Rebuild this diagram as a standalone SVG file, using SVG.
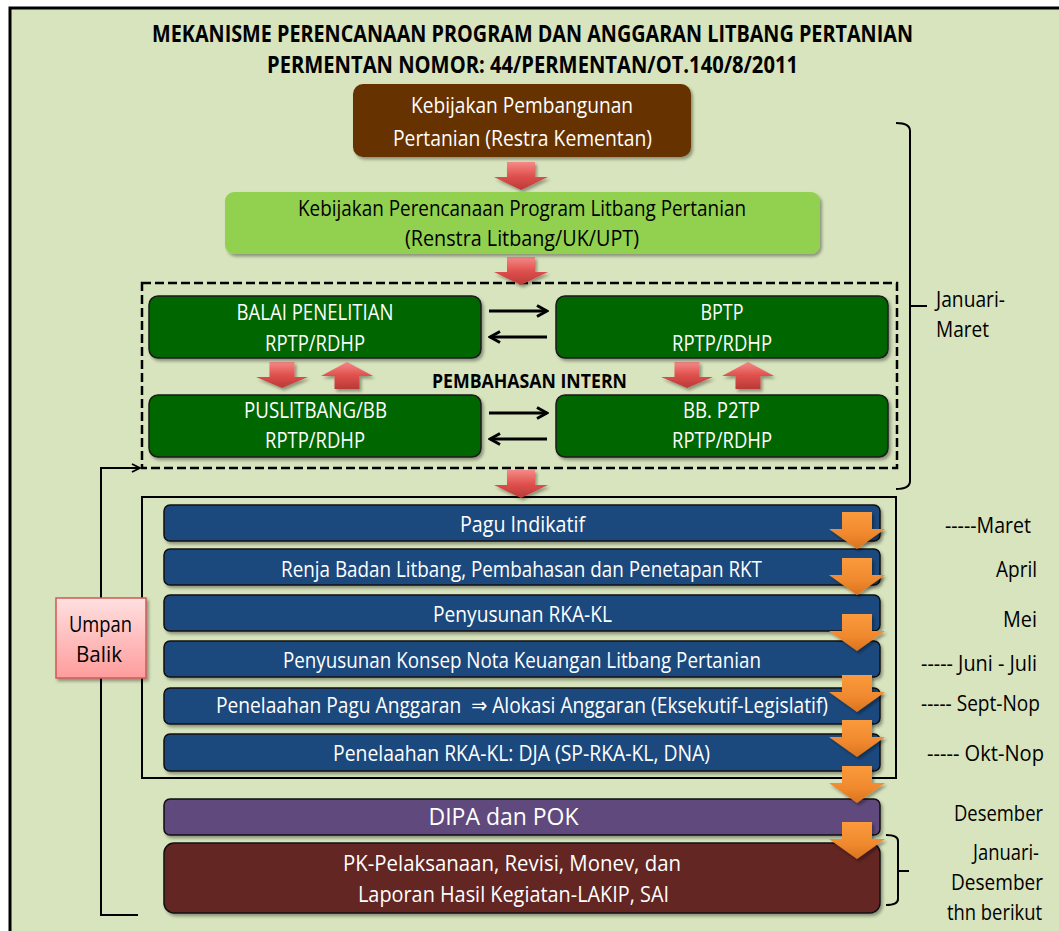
<svg xmlns="http://www.w3.org/2000/svg" width="1059" height="931" viewBox="0 0 1059 931">
<style>
.t{font-family:"Open Sans","Liberation Sans","DejaVu Sans",sans-serif;font-size:22px}
.c{text-anchor:middle}
.e{text-anchor:end}
.w{fill:#ffffff}
.k{fill:#000000}
.b{font-weight:bold}
.ttl{font-size:23px;font-weight:bold;fill:#000}
.grn{fill:#006600;stroke:#1a1a1a;stroke-width:1.5}
.blu{fill:#1F497D;stroke:#111;stroke-width:1.5}
.sh{filter:url(#shadow)}
.ln{fill:none;stroke:#000;stroke-width:2}
.ba{fill:none;stroke:#000;stroke-width:3}
</style>
<defs>
<filter id="shadow" x="-10%" y="-20%" width="130%" height="150%">
<feDropShadow dx="2" dy="2.5" stdDeviation="1.5" flood-color="#000" flood-opacity="0.35"/>
</filter>
<linearGradient id="red" x1="0" y1="0" x2="0" y2="1">
<stop offset="0" stop-color="#F58A87"/>
<stop offset="0.5" stop-color="#E0504D"/>
<stop offset="1" stop-color="#B83A37"/>
</linearGradient>
<linearGradient id="org" x1="0" y1="0" x2="0" y2="1">
<stop offset="0" stop-color="#FA9A3C"/>
<stop offset="0.6" stop-color="#F0892E"/>
<stop offset="1" stop-color="#D9731E"/>
</linearGradient>
<linearGradient id="pink" x1="0" y1="0" x2="0" y2="1">
<stop offset="0" stop-color="#FFE0E0"/>
<stop offset="1" stop-color="#FF9C9C"/>
</linearGradient>
<path id="bigred" d="M-14,0 H14 V15 H27 L0,28 L-27,15 H-14 Z" fill="url(#red)"/>
<path id="smdown" d="M-12.5,0 H12.5 V15 H26 L0,26 L-26,15 H-12.5 Z" fill="url(#red)"/>
<path id="smup" d="M0,0 L26,14 H12.5 V27 H-12.5 V14 H-26 Z" fill="url(#red)"/>
<path id="oarr" d="M-15,0 H15 V17 H28 L0,37 L-28,17 H-15 Z" fill="url(#org)"/>
<marker id="chev" viewBox="0 0 10 10" refX="9" refY="5" markerWidth="10" markerHeight="10" markerUnits="userSpaceOnUse" orient="auto">
<path d="M1,1 L9,5 L1,9" fill="none" stroke="#000" stroke-width="1.8"/>
</marker>
<marker id="chev2" viewBox="0 0 14 14" refX="12" refY="7" markerWidth="14" markerHeight="14" markerUnits="userSpaceOnUse" orient="auto">
<path d="M2,1.5 L12,7 L2,12.5" fill="none" stroke="#000" stroke-width="3"/>
</marker>
</defs>

<rect x="0" y="0" width="1059" height="931" fill="#ffffff"/>
<rect x="10" y="8" width="1049" height="923" fill="#D7E4BD"/>
<path d="M10,931 V8 H1059" fill="none" stroke="#000" stroke-width="3"/>

<g id="title">
<text class="t ttl c" x="532.5" y="42" textLength="761" lengthAdjust="spacingAndGlyphs">MEKANISME PERENCANAAN PROGRAM DAN ANGGARAN LITBANG PERTANIAN</text>
<text class="t ttl c" x="532.5" y="73" textLength="531" lengthAdjust="spacingAndGlyphs">PERMENTAN NOMOR: 44/PERMENTAN/OT.140/8/2011</text>
</g>

<g id="groups">
<rect x="142" y="283" width="755" height="185" fill="none" stroke="#000" stroke-width="2.5" stroke-dasharray="9 4"/>
<rect x="142" y="497" width="754" height="281" fill="none" stroke="#000" stroke-width="2"/>
<path class="ln" d="M896,123 Q910,123 910,131 V481 Q910,489 896,489 M910,306 H927"/>
<path class="ln" d="M886,835 Q898,835 898,841 V899 Q898,905 886,905 M898,871 H909"/>
</g>

<g id="connectors">
<use href="#bigred" x="521" y="162" class="sh"/>
<use href="#bigred" x="521" y="257" class="sh"/>
<use href="#bigred" x="521" y="470" class="sh"/>
<use href="#smdown" x="282" y="362" class="sh"/>
<use href="#smup" x="347" y="362" class="sh"/>
<use href="#smdown" x="687" y="362" class="sh"/>
<use href="#smup" x="748" y="362" class="sh"/>
<line class="ba" x1="489" y1="311" x2="547" y2="311" marker-end="url(#chev2)"/>
<line class="ba" x1="547" y1="337" x2="490" y2="337" marker-end="url(#chev2)"/>
<line class="ba" x1="489" y1="413" x2="547" y2="413" marker-end="url(#chev2)"/>
<line class="ba" x1="547" y1="439" x2="490" y2="439" marker-end="url(#chev2)"/>
<path class="ln" d="M138,915 H101 V468 H140" marker-end="url(#chev)"/>
</g>

<g id="n-kebijakan-pembangunan">
<rect x="353" y="84" width="338" height="73" rx="10" fill="#663300" class="sh"/>
<text class="t c w" x="522" y="113" textLength="222" lengthAdjust="spacingAndGlyphs">Kebijakan Pembangunan</text>
<text class="t c w" x="522.5" y="146" textLength="259" lengthAdjust="spacingAndGlyphs">Pertanian (Restra Kementan)</text>
</g>

<g id="n-kebijakan-perencanaan">
<rect x="225" y="192" width="595" height="62" rx="9" fill="#92D050" class="sh"/>
<text class="t c k" x="522" y="216" textLength="448" lengthAdjust="spacingAndGlyphs">Kebijakan Perencanaan Program Litbang Pertanian</text>
<text class="t c k" x="522" y="246" textLength="234" lengthAdjust="spacingAndGlyphs">(Renstra Litbang/UK/UPT)</text>
</g>

<g id="n-balai">
<rect x="149" y="296" width="332" height="62" rx="9" class="grn sh"/>
<text class="t c w" x="315" y="320" textLength="157" lengthAdjust="spacingAndGlyphs">BALAI PENELITIAN</text>
<text class="t c w" x="315" y="351" textLength="100" lengthAdjust="spacingAndGlyphs">RPTP/RDHP</text>
</g>
<g id="n-bptp">
<rect x="556" y="296" width="332" height="62" rx="9" class="grn sh"/>
<text class="t c w" x="722" y="320" textLength="43" lengthAdjust="spacingAndGlyphs">BPTP</text>
<text class="t c w" x="722" y="351" textLength="100" lengthAdjust="spacingAndGlyphs">RPTP/RDHP</text>
</g>
<g id="n-puslitbang">
<rect x="149" y="395" width="332" height="62" rx="9" class="grn sh"/>
<text class="t c w" x="315.5" y="418" textLength="143" lengthAdjust="spacingAndGlyphs">PUSLITBANG/BB</text>
<text class="t c w" x="315" y="448" textLength="100" lengthAdjust="spacingAndGlyphs">RPTP/RDHP</text>
</g>
<g id="n-bbp2tp">
<rect x="556" y="395" width="332" height="62" rx="9" class="grn sh"/>
<text class="t c w" x="721.5" y="418" textLength="77" lengthAdjust="spacingAndGlyphs">BB. P2TP</text>
<text class="t c w" x="722" y="448" textLength="100" lengthAdjust="spacingAndGlyphs">RPTP/RDHP</text>
</g>
<g id="lbl-pembahasan">
<text class="t c k b" x="529.5" y="388" style="font-size:19px" textLength="195" lengthAdjust="spacingAndGlyphs">PEMBAHASAN INTERN</text>
</g>
<g id="lbl-januari-maret">
<text class="t k" x="936" y="307" textLength="69" lengthAdjust="spacingAndGlyphs">Januari-</text>
<text class="t k" x="936" y="337" textLength="53" lengthAdjust="spacingAndGlyphs">Maret</text>
</g>

<g id="n-pagu">
<rect x="164" y="505" width="716" height="36" rx="6" class="blu sh"/>
<text class="t c w" x="522.5" y="532" textLength="125" lengthAdjust="spacingAndGlyphs">Pagu Indikatif</text>
</g>
<g id="n-renja">
<rect x="164" y="549" width="716" height="36" rx="6" class="blu sh"/>
<text class="t c w" x="521.5" y="577" textLength="481" lengthAdjust="spacingAndGlyphs">Renja Badan Litbang, Pembahasan dan Penetapan RKT</text>
</g>
<g id="n-rkakl">
<rect x="164" y="595" width="716" height="36" rx="6" class="blu sh"/>
<text class="t c w" x="522.5" y="622" textLength="179" lengthAdjust="spacingAndGlyphs">Penyusunan RKA-KL</text>
</g>
<g id="n-nota">
<rect x="164" y="641" width="716" height="36" rx="6" class="blu sh"/>
<text class="t c w" x="522" y="668" textLength="478" lengthAdjust="spacingAndGlyphs">Penyusunan Konsep Nota Keuangan Litbang Pertanian</text>
</g>
<g id="n-penelaahan-pagu">
<rect x="164" y="688" width="716" height="36" rx="6" class="blu sh"/>
<text class="t c w" x="522" y="713" style="white-space:pre" textLength="612" lengthAdjust="spacingAndGlyphs">Penelaahan Pagu Anggaran  ⇒ Alokasi Anggaran (Eksekutif-Legislatif)</text>
</g>
<g id="n-penelaahan-rkakl">
<rect x="164" y="734" width="716" height="37" rx="6" class="blu sh"/>
<text class="t c w" x="521.5" y="761" textLength="377" lengthAdjust="spacingAndGlyphs">Penelaahan RKA-KL: DJA (SP-RKA-KL, DNA)</text>
</g>
<g id="n-dipa">
<rect x="164" y="799" width="716" height="36" rx="6" fill="#604A7B" stroke="#111" stroke-width="1.5" class="sh"/>
<text class="t c w" x="503.5" y="825" style="font-size:23px" textLength="150" lengthAdjust="spacingAndGlyphs">DIPA dan POK</text>
</g>
<g id="n-pk">
<rect x="164" y="843" width="716" height="70" rx="10" fill="#632523" stroke="#111" stroke-width="1.5" class="sh"/>
<text class="t c w" x="512" y="871" textLength="338" lengthAdjust="spacingAndGlyphs">PK-Pelaksanaan, Revisi, Monev, dan</text>
<text class="t c w" x="513.5" y="902" textLength="311" lengthAdjust="spacingAndGlyphs">Laporan Hasil Kegiatan-LAKIP, SAI</text>
</g>

<g id="orange-arrows">
<use href="#oarr" x="857" y="512" class="sh"/>
<use href="#oarr" x="857" y="558" class="sh"/>
<use href="#oarr" x="857" y="614" class="sh"/>
<use href="#oarr" x="857" y="675" class="sh"/>
<use href="#oarr" x="857" y="720" class="sh"/>
<use href="#oarr" x="857" y="766" class="sh"/>
<use href="#oarr" x="857" y="822" class="sh"/>
</g>

<g id="n-umpan-balik">
<rect x="56" y="598" width="90" height="80" fill="url(#pink)" stroke="#D05A57" stroke-width="1.5" class="sh"/>
<text class="t c k" x="100.5" y="632" textLength="63" lengthAdjust="spacingAndGlyphs">Umpan</text>
<text class="t c k" x="99" y="662" textLength="46" lengthAdjust="spacingAndGlyphs">Balik</text>
</g>

<g id="months">
<text class="t e k" x="1031" y="533" textLength="86" lengthAdjust="spacingAndGlyphs">-----Maret</text>
<text class="t e k" x="1037" y="577" textLength="41" lengthAdjust="spacingAndGlyphs">April</text>
<text class="t e k" x="1037" y="627" textLength="34" lengthAdjust="spacingAndGlyphs">Mei</text>
<text class="t e k" x="1037" y="671" textLength="116" lengthAdjust="spacingAndGlyphs">----- Juni - Juli</text>
<text class="t e k" x="1040" y="711" textLength="119" lengthAdjust="spacingAndGlyphs">----- Sept-Nop</text>
<text class="t e k" x="1044" y="761" textLength="117" lengthAdjust="spacingAndGlyphs">----- Okt-Nop</text>
<text class="t e k" x="1043" y="821" style="font-size:21px" textLength="89" lengthAdjust="spacingAndGlyphs">Desember</text>
<text class="t e k" x="1039" y="860" textLength="66" lengthAdjust="spacingAndGlyphs">Januari-</text>
<text class="t e k" x="1043" y="890" textLength="92" lengthAdjust="spacingAndGlyphs">Desember</text>
<text class="t e k" x="1042" y="920" textLength="95" lengthAdjust="spacingAndGlyphs">thn berikut</text>
</g>
</svg>
